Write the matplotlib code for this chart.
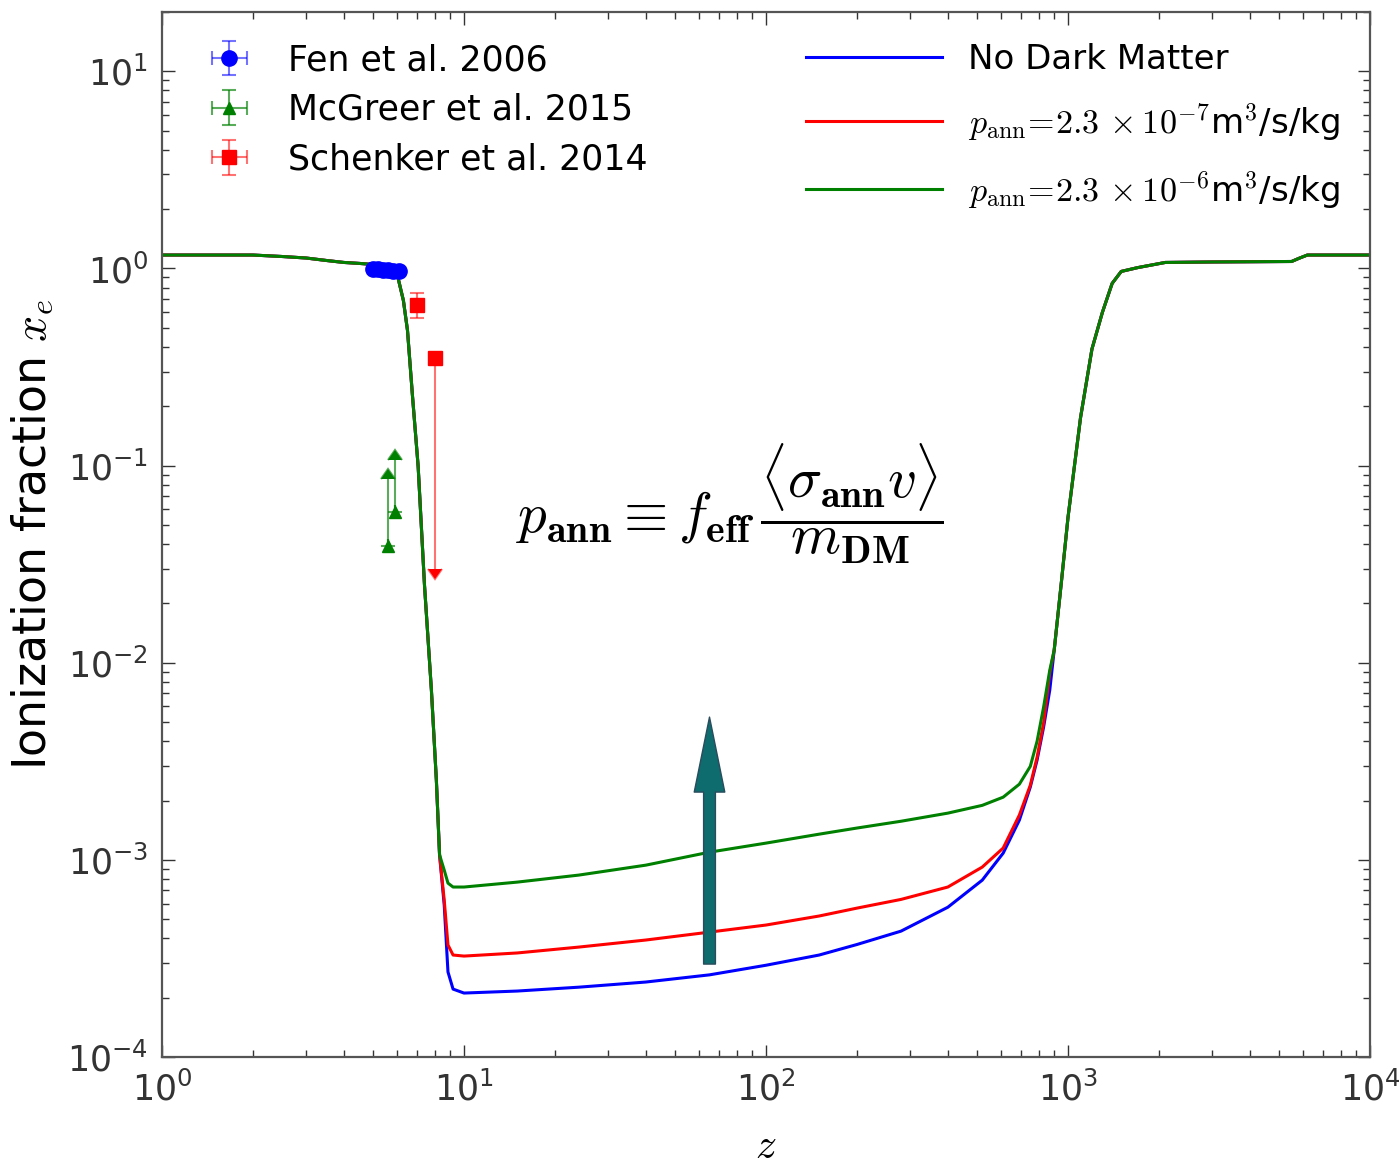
import numpy as np
import matplotlib
matplotlib.use('Agg')
import matplotlib.pyplot as plt

plt.rcParams['mathtext.fontset'] = 'cm'
plt.rcParams['font.family'] = 'DejaVu Sans'
plt.rcParams['axes.unicode_minus'] = False

# redshift nodes: reionization drop, dark-ages trough, recombination rise
z_lo = [1, 2, 2.5, 3, 3.5, 4, 4.5, 5, 5.5, 5.8, 6.0, 6.3, 6.5, 6.75,
        7.05, 7.4, 7.8, 8.1, 8.3]
xe_lo = [1.17, 1.17, 1.15, 1.13, 1.098, 1.073, 1.061, 1.048, 1.024, 1.0,
         0.943, 0.688, 0.485, 0.227, 0.0991, 0.0247, 7.26e-3, 2.54e-3, 1.06e-3]

z_mid = [8.6, 8.85, 9.2, 10, 15, 24, 40, 65, 100, 150, 200, 280, 400, 520,
         610, 690, 750, 790, 830, 870]
xe_nodm_mid = [5.9e-4, 2.70e-4, 2.21e-4, 2.11e-4, 2.16e-4, 2.26e-4, 2.40e-4,
               2.61e-4, 2.92e-4, 3.29e-4, 3.72e-4, 4.35e-4, 5.75e-4, 7.89e-4,
               1.082e-3, 1.59e-3, 2.34e-3, 3.21e-3, 4.71e-3, 7.26e-3]
xe_low_mid = [6.25e-4, 3.70e-4, 3.29e-4, 3.25e-4, 3.37e-4, 3.61e-4, 3.92e-4,
              4.30e-4, 4.67e-4, 5.19e-4, 5.69e-4, 6.3e-4, 7.28e-4, 9.19e-4,
              1.148e-3, 1.687e-3, 2.39e-3, 3.32e-3, 4.93e-3, 8.85e-3]
xe_high_mid = [8.87e-4, 7.62e-4, 7.28e-4, 7.28e-4, 7.71e-4, 8.37e-4, 9.40e-4,
               1.094e-3, 1.216e-3, 1.35e-3, 1.45e-3, 1.57e-3, 1.726e-3,
               1.89e-3, 2.08e-3, 2.42e-3, 2.98e-3, 4.0e-3, 5.95e-3, 9.16e-3]

z_hi = [900, 950, 1000, 1050, 1100, 1200, 1300, 1400, 1500, 1700, 2100,
        3000, 5500, 5800, 6200, 7000, 10000]
xe_hi = [0.0116, 0.0254, 0.0547, 0.0994, 0.175, 0.39, 0.60, 0.84, 0.966,
         1.01, 1.073, 1.079, 1.085, 1.124, 1.17, 1.17, 1.17]

z = z_lo + z_mid + z_hi
xe_nodm = xe_lo + xe_nodm_mid + xe_hi
xe_low = xe_lo + xe_low_mid + xe_hi
xe_high = xe_lo + xe_high_mid + xe_hi

# observational constraints
fan_z = [5.0, 5.2, 5.4, 5.6, 5.8, 6.1]
fan_xe = [0.99, 0.99, 0.98, 0.98, 0.97, 0.97]

mcg_z = [5.6, 5.9]
mcg_xe = [0.039, 0.058]
mcg_up = [0.047, 0.049]

sch_z = [7.0, 8.0]
sch_xe = [0.65, 0.35]
sch_lo = [0.09, 0.32]
sch_hi = [0.10, 0.0]

fig = plt.figure(figsize=(14, 11.66), dpi=100)
ax = fig.add_axes([0.1157, 0.0935, 0.8629, 0.8962])

ax.plot(z, xe_nodm, color='b', lw=2.2, label='No Dark Matter')
ax.plot(z, xe_low, color='r', lw=2.2,
        label=r'$p_{\rm ann}\!=\!2.3\,\times 10^{-7}$m$^3$/s/kg')
ax.plot(z, xe_high, color='g', lw=2.2,
        label=r'$p_{\rm ann}\!=\!2.3\,\times 10^{-6}$m$^3$/s/kg')

ekw = dict(elinewidth=1.5, capsize=5, capthick=1.5)
h1 = ax.errorbar(fan_z, fan_xe, xerr=0.1, yerr=0.01, fmt='o', color='b',
                 ecolor=(0, 0, 1, 0.55), ms=11, label='Fen et al. 2006', **ekw)
h2 = ax.errorbar(mcg_z, mcg_xe, xerr=0.0, yerr=mcg_up, lolims=True, fmt='^',
                 color='g', ecolor=(0, 0.5, 0, 0.65), ms=9,
                 label='McGreer et al. 2015', **ekw)
h3 = ax.errorbar(sch_z[:1], sch_xe[:1], xerr=0.0, yerr=[sch_lo[:1], sch_hi[:1]],
                 fmt='s', color='r', ecolor=(1, 0, 0, 0.55), ms=10,
                 label='Schenker et al. 2014', **ekw)
ax.errorbar(sch_z[1:], sch_xe[1:], yerr=sch_lo[1:], uplims=True, fmt='s',
            color='r', ecolor=(1, 0, 0, 0.55), ms=10, **ekw)

ax.set_xscale('log')
ax.set_yscale('log')
ax.set_xlim(1, 1e4)
ax.set_ylim(1e-4, 20)

ax.text(76, 6.4e-2,
        r'$p_{\mathbf{ann}}\equiv f_{\mathbf{eff}}\,'
        r'\dfrac{\langle\sigma_{\mathbf{ann}}v\rangle}{m_{\mathbf{DM}}}$',
        fontsize=41, ha='center', va='center')

ax.annotate('', xy=(65, 5.3e-3), xytext=(65, 2.96e-4),
            arrowprops=dict(arrowstyle='simple,head_length=5.4,head_width=2.2,tail_width=0.85',
                            mutation_scale=10, fc='#0e6b6e', ec='#2a4c5c',
                            lw=1, shrinkA=0, shrinkB=0))

ax.set_xlabel(r'$z$', fontsize=30, labelpad=13)
ax.set_ylabel(r'Ionization fraction $x_e$', fontsize=33, labelpad=8)

ax.tick_params(which='both', direction='in', top=True, right=True,
               labelsize=25, colors='#333333', pad=10)
ax.tick_params(which='major', length=9, width=1)
ax.tick_params(which='minor', length=5, width=1)
for s in ax.spines.values():
    s.set_color('#555555')
    s.set_linewidth(1.6)

lines = ax.get_lines()[:3]
leg2 = ax.legend(handles=lines, loc='upper right', frameon=False, fontsize=24.5,
                 handlelength=4.0, handletextpad=0.75, labelspacing=0.75,
                 bbox_to_anchor=(1.0, 1.0))
ax.add_artist(leg2)
ax.legend(handles=[h1, h2, h3], loc='upper left', frameon=False, fontsize=25,
          handlelength=1.8, handletextpad=0.8, labelspacing=0.45,
          bbox_to_anchor=(0.004, 1.0))

fig.savefig('out.png', dpi=100)
